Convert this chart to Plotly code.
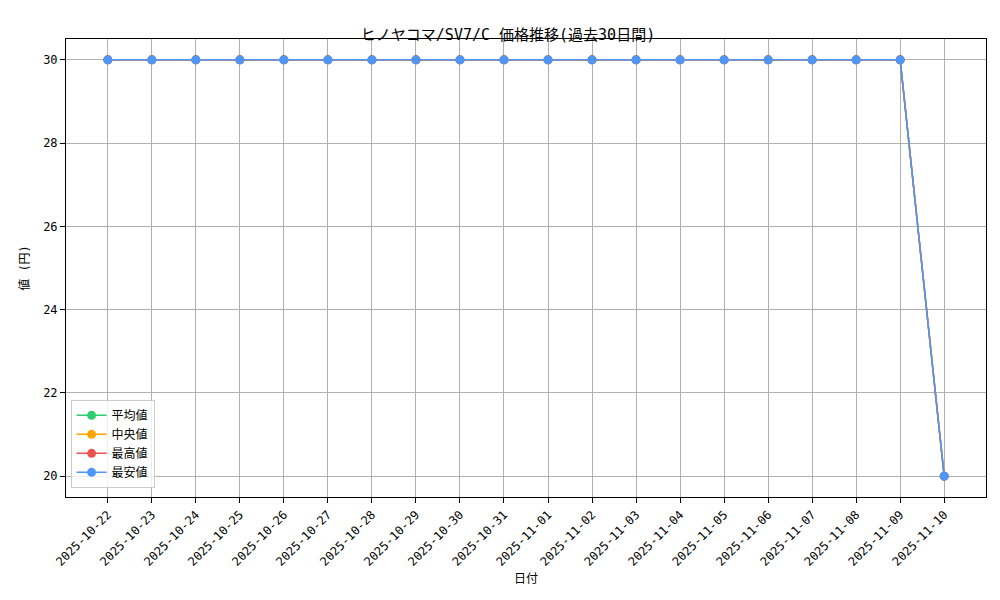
import plotly.graph_objects as go

dates = ["2025-10-22", "2025-10-23", "2025-10-24", "2025-10-25", "2025-10-26",
         "2025-10-27", "2025-10-28", "2025-10-29", "2025-10-30", "2025-10-31",
         "2025-11-01", "2025-11-02", "2025-11-03", "2025-11-04", "2025-11-05",
         "2025-11-06", "2025-11-07", "2025-11-08", "2025-11-09", "2025-11-10"]
avg_vals = [30] * 19 + [20]
med_vals = [30] * 19 + [20]
max_vals = [30] * 19 + [20]
min_vals = [30] * 19 + [20]

series = [("平均値", avg_vals, "#2ecc71"), ("中央値", med_vals, "#ffa500"),
          ("最高値", max_vals, "#ef5350"), ("最安値", min_vals, "#4d96ff")]

font = "DejaVu Sans Mono, Noto Sans CJK JP"
fig = go.Figure()
for name, vals, color in series:
    fig.add_trace(go.Scatter(x=dates, y=vals, name=name, mode="lines+markers",
                             line=dict(color=color, width=1.5),
                             marker=dict(size=9, color=color)))

axis = dict(showline=True, mirror=True, linecolor="black", linewidth=1,
            showgrid=True, gridcolor="#b0b0b0", gridwidth=1, ticks="outside",
            tickcolor="black", zeroline=False, tickfont=dict(size=12, color="black"))
fig.update_layout(
    width=1000, height=600, plot_bgcolor="white", paper_bgcolor="white",
    font=dict(family=font, color="black"),
    margin=dict(l=58, r=22, t=31, b=111),
    title=dict(text="ヒノヤコマ/SV7/C 価格推移(過去30日間)", x=0.5, xanchor="center",
               y=0.965, font=dict(size=15)),
    xaxis=dict(axis, type="category", range=[-0.95, 19.95], tickangle=-45,
               title=dict(text="日付", font=dict(size=12), standoff=6)),
    yaxis=dict(axis, range=[19.5, 30.5], tickvals=[20, 22, 24, 26, 28, 30],
               title=dict(text="値 (円)", font=dict(size=12), standoff=10)),
    legend=dict(x=0.005, y=0.02, xanchor="left", yanchor="bottom",
                bordercolor="#cccccc", borderwidth=1, bgcolor="rgba(255,255,255,0.8)",
                font=dict(size=12)),
)
fig.write_html("out.html")
